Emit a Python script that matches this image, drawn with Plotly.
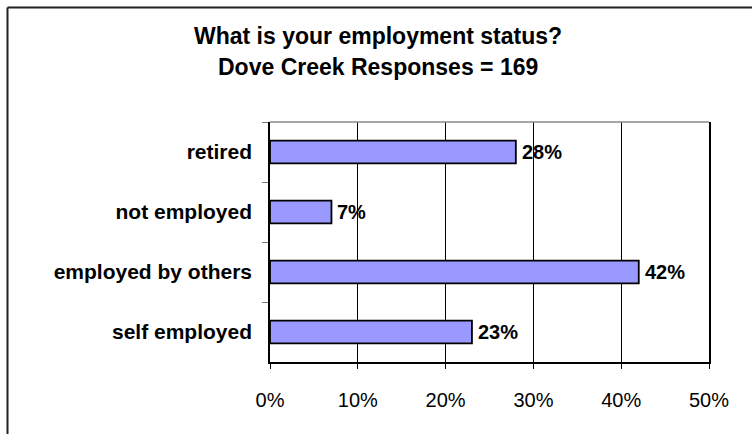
import plotly.graph_objects as go

# Survey results, listed top to bottom as shown on the chart
categories = ["retired", "not employed", "employed by others", "self employed"]
percent = [28, 7, 42, 23]
x_ticks = [0, 10, 20, 30, 40, 50]
x_tick_labels = ["0%", "10%", "20%", "30%", "40%", "50%"]
title_lines = ["What is your employment status?", "Dove Creek Responses = 169"]

FONT = "Liberation Sans, Arial, sans-serif"
W, H = 752, 434
L, R, T, B = 270, 43, 122, 72
pw, ph = W - L - R, H - T - B


def px_x(p):
    return (p - L) / pw


def px_y(p):
    return 1 - (p - T) / ph


fig = go.Figure(
    go.Bar(
        x=percent,
        y=categories,
        orientation="h",
        width=0.38,
        marker=dict(color="#9999FF", line=dict(color="black", width=1.8)),
        hoverinfo="skip",
    )
)

annotations = []
for cat, v in zip(categories, percent):
    annotations.append(
        dict(
            x=v, y=cat, xref="x", yref="y",
            text=f"{v}%", showarrow=False,
            xanchor="left", yanchor="middle", xshift=4,
            font=dict(family=FONT, size=20, color="black", weight="bold"),
        )
    )

for line, cy in zip(title_lines, [35.5, 67]):
    annotations.append(
        dict(
            x=px_x(378), y=px_y(cy), xref="paper", yref="paper",
            text=line, showarrow=False,
            xanchor="center", yanchor="middle",
            font=dict(family=FONT, size=23, color="black", weight="bold"),
        )
    )

shapes = [
    # outer chart frame (left and top edges)
    dict(type="line", xref="paper", yref="paper",
         x0=px_x(7.5), x1=px_x(760), y0=px_y(7.5), y1=px_y(7.5),
         line=dict(color="#222222", width=2)),
    dict(type="line", xref="paper", yref="paper",
         x0=px_x(7.5), x1=px_x(7.5), y0=px_y(7.5), y1=px_y(440),
         line=dict(color="#222222", width=2)),
    # top edge of the plot area
    dict(type="line", xref="paper", yref="paper",
         x0=0, x1=1, y0=1, y1=1,
         line=dict(color="#888888", width=1.5)),
]

fig.update_layout(
    width=W, height=H,
    margin=dict(l=L, r=R, t=T, b=B, pad=0),
    paper_bgcolor="white", plot_bgcolor="white",
    showlegend=False,
    annotations=annotations,
    shapes=shapes,
    xaxis=dict(
        range=[0, 50],
        tickvals=x_ticks, ticktext=x_tick_labels,
        showgrid=True, gridcolor="black", gridwidth=1,
        showline=True, linecolor="black", linewidth=1.5,
        ticks="outside", ticklen=5, tickcolor="black",
        ticklabelstandoff=14,
        tickfont=dict(family=FONT, size=20, color="black"),
        zeroline=False, fixedrange=True,
    ),
    yaxis=dict(
        categoryorder="array", categoryarray=categories,
        autorange="reversed",
        showgrid=False,
        showline=True, mirror=True, linecolor="black", linewidth=1.5,
        ticks="outside", tickson="boundaries", ticklen=6, tickcolor="#777777",
        ticklabelstandoff=12,
        tickfont=dict(family=FONT, size=21, color="black", weight="bold"),
        zeroline=False, fixedrange=True,
    ),
)

fig.write_html("out.html")
